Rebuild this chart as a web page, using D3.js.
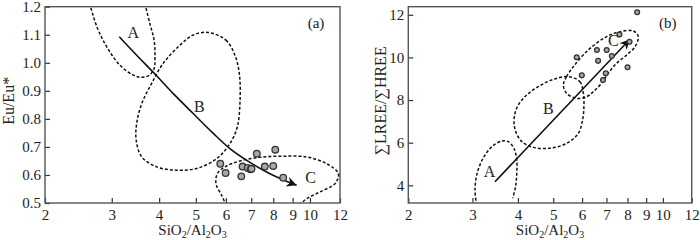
<!DOCTYPE html>
<html>
<head>
<meta charset="utf-8">
<script src="https://cdn.jsdelivr.net/npm/d3@7"></script>
<style>
  body { margin: 0; background: #fff; }
  svg { font-family: "Liberation Serif", "DejaVu Serif", serif; }
</style>
</head>
<body>
<div class="chart"></div>
<script>
// tick values
var xTicks = [2, 3, 4, 5, 6, 7, 8, 9, 10, 12];
var euTicks = [0.5, 0.6, 0.7, 0.8, 0.9, 1.0, 1.1, 1.2];
var lreeTicks = [4, 6, 8, 10, 12];

// samples
var sampleSiAl = [5.8, 5.99, 6.59, 6.64, 6.85, 6.97, 7.01, 7.24, 7.6, 8.0, 8.1, 8.5];
var euRatio    = [0.64, 0.607, 0.595, 0.63, 0.625, 0.62, 0.622, 0.676, 0.63, 0.632, 0.69, 0.59];
var lreeRatio  = [10.01, 9.16, 10.35, 9.84, 8.94, 9.26, 10.35, 10.07, 11.07, 9.54, 10.73, 12.12];

// fields, panel (a)  [SiO2/Al2O3, Eu/Eu*]
var fieldA_a = [[2.6,1.23],[2.74,1.129],[2.91,1.057],[3.15,0.992],[3.42,0.956],[3.6,0.948],[3.77,0.956],[3.88,0.98],[3.9,1.021],[3.88,1.081],[3.78,1.14],[3.64,1.23]];
var fieldB_a = [[5.39,1.108],[6.0,1.081],[6.34,1.027],[6.51,0.962],[6.54,0.867],[6.43,0.771],[6.15,0.712],[5.67,0.658],[5.02,0.623],[4.45,0.617],[3.94,0.629],[3.6,0.664],[3.48,0.724],[3.49,0.783],[3.6,0.855],[3.82,0.926],[4.1,0.998],[4.54,1.063],[4.92,1.099]];
var fieldC_a = [[6.02,0.49],[5.85,0.527],[5.65,0.569],[5.7,0.605],[5.97,0.629],[6.54,0.65],[7.38,0.663],[8.5,0.667],[9.8,0.664],[11.07,0.64],[11.88,0.605],[11.64,0.569],[10.6,0.539],[9.8,0.515],[9.3,0.49]];
var trend_a = [[3.14,1.093],[3.49,1.027],[3.9,0.96],[4.36,0.89],[4.92,0.819],[5.56,0.748],[6.15,0.694],[6.81,0.652],[7.53,0.617],[8.34,0.587],[9.22,0.563]];
var labels_a = [["A",3.42,1.108],["B",5.11,0.845],["C",10.04,0.593]];

// fields, panel (b)  [SiO2/Al2O3, LREE/HREE]
var fieldA_b = [[3.08,3.05],[3.05,3.78],[3.09,4.56],[3.21,5.27],[3.39,5.81],[3.61,6.08],[3.76,6.05],[3.9,5.74],[3.97,5.19],[3.97,4.56],[3.94,3.93],[3.87,3.39]];
var fieldB_b = [[5.5,9.1],[5.92,8.86],[6.05,8.32],[6.07,7.69],[6.02,7.07],[5.86,6.44],[5.44,5.97],[4.9,5.74],[4.41,5.78],[4.1,6.05],[3.93,6.6],[3.91,7.22],[4.01,7.77],[4.23,8.24],[4.55,8.63],[4.95,8.94]];
var fieldC_b = [[5.33,8.71],[5.44,9.1],[5.68,9.57],[6.24,10.35],[7.01,10.98],[7.63,11.21],[8.3,11.24],[8.56,10.98],[8.39,10.51],[7.96,10.12],[7.47,9.73],[7.08,9.26],[6.79,8.79],[6.44,8.39],[6.18,8.16],[5.8,8.08],[5.44,8.32]];
var trend_b = [[3.46,4.17],[8.12,10.85]];
var labels_b = [["A",3.34,4.64],["B",4.85,7.62],["C",7.31,10.82]];

var svg = d3.select(".chart").append("svg")
  .attr("width", 700)
  .attr("height", 240);

var defs = svg.append("defs");
defs.append("marker")
  .attr("id", "head")
  .attr("viewBox", "0 0 10 10")
  .attr("refX", 10).attr("refY", 5)
  .attr("markerUnits", "userSpaceOnUse")
  .attr("markerWidth", 15).attr("markerHeight", 10)
  .attr("orient", "auto")
  .append("path")
  .attr("d", "M0,0 L10,5 L0,10 L3,5 z")
  .style("fill", "#111");

function drawPanel(p) {
  var x = d3.scaleLog().domain([2, 12]).range([p.left, p.right]);
  var y = d3.scaleLinear().domain(p.yDomain).range([p.bottom, p.top]);

  defs.append("clipPath").attr("id", "clip" + p.id)
    .append("rect")
    .attr("x", p.left).attr("y", p.top)
    .attr("width", p.right - p.left).attr("height", p.bottom - p.top);

  var g = svg.append("g");

  // axes, ticks pointing inward
  var xAxis = g.append("g")
    .attr("transform", "translate(0," + p.bottom + ")")
    .call(d3.axisBottom(x).tickValues(xTicks).tickFormat(d3.format("d"))
      .tickSizeInner(-5).tickSizeOuter(0).tickPadding(6));
  var yAxis = g.append("g")
    .attr("transform", "translate(" + p.left + ",0)")
    .call(d3.axisLeft(y).tickValues(p.yTicks).tickFormat(p.yFormat)
      .tickSizeInner(-5).tickSizeOuter(0).tickPadding(4));
  [xAxis, yAxis].forEach(function (a) {
    a.select(".domain").remove();
    a.selectAll("line").style("stroke", "#333").style("stroke-width", 1.2);
    a.selectAll("text").style("font-family", "Liberation Serif").style("font-size", "15px").style("fill", "#222");
  });

  g.append("rect")
    .attr("x", p.left).attr("y", p.top)
    .attr("width", p.right - p.left).attr("height", p.bottom - p.top)
    .style("fill", "none").style("stroke", "#555").style("stroke-width", 1.4);

  var plot = g.append("g").attr("clip-path", "url(#clip" + p.id + ")");

  var lineOpen = d3.line()
    .x(function (d) { return x(d[0]); })
    .y(function (d) { return y(d[1]); })
    .curve(d3.curveCatmullRom);
  var lineClosed = d3.line()
    .x(function (d) { return x(d[0]); })
    .y(function (d) { return y(d[1]); })
    .curve(d3.curveCatmullRomClosed);

  plot.selectAll("path.field")
    .data(p.fields)
    .enter()
    .append("path")
    .attr("class", "field")
    .attr("d", function (d) { return d.closed ? lineClosed(d.pts) : lineOpen(d.pts); })
    .style("fill", "none")
    .style("stroke", "#111")
    .style("stroke-width", 1.5)
    .style("stroke-dasharray", "3,2");

  plot.append("path")
    .attr("d", lineOpen(p.trend))
    .style("fill", "none")
    .style("stroke", "#111")
    .style("stroke-width", 1.6)
    .attr("marker-end", "url(#head)");

  plot.selectAll("circle")
    .data(p.points)
    .enter()
    .append("circle")
    .attr("cx", function (d) { return x(d[0]); })
    .attr("cy", function (d) { return y(d[1]); })
    .attr("r", p.r)
    .style("fill", "#a8a8a8")
    .style("stroke", "#333")
    .style("stroke-width", 1.3);

  g.selectAll("text.zone")
    .data(p.labels)
    .enter()
    .append("text")
    .attr("class", "zone")
    .attr("x", function (d) { return x(d[1]); })
    .attr("y", function (d) { return y(d[2]); })
    .attr("dy", "0.35em")
    .attr("text-anchor", "middle")
    .style("font-size", "16px")
    .style("fill", "#222")
    .text(function (d) { return d[0]; });

  g.append("text")
    .attr("x", p.right - 24).attr("y", p.top + 16)
    .attr("dy", "0.35em")
    .attr("text-anchor", "middle")
    .style("font-size", "15px")
    .style("fill", "#222")
    .text(p.tag);

  // x title with subscripts
  var xt = g.append("text")
    .attr("x", (p.left + p.right) / 2).attr("y", 235)
    .attr("text-anchor", "middle")
    .style("font-size", "15px")
    .style("fill", "#222");
  [["SiO", 0], ["2", 1], ["/Al", 0], ["2", 1], ["O", 0], ["3", 1]].forEach(function (s) {
    xt.append("tspan")
      .attr("baseline-shift", s[1] ? "-25%" : null)
      .style("font-size", s[1] ? "10px" : null)
      .text(s[0]);
  });

  g.append("text")
    .attr("transform", "translate(" + p.yTitleX + "," + ((p.top + p.bottom) / 2 - 4) + ") rotate(-90)")
    .attr("dy", "0.35em")
    .attr("text-anchor", "middle")
    .style("font-size", "16px")
    .style("fill", "#222")
    .text(p.yTitle);
}

drawPanel({
  id: "a", tag: "(a)",
  left: 45, right: 340, top: 6.7, bottom: 203,
  yDomain: [0.5, 1.2], yTicks: euTicks, yFormat: d3.format(".1f"),
  yTitle: "Eu/Eu*", yTitleX: 8,
  fields: [{ pts: fieldA_a, closed: false }, { pts: fieldB_a, closed: true }, { pts: fieldC_a, closed: false }],
  trend: trend_a,
  points: sampleSiAl.map(function (v, i) { return [v, euRatio[i]]; }),
  r: 3.3,
  labels: labels_a
});

drawPanel({
  id: "b", tag: "(b)",
  left: 408.3, right: 691.7, top: 6.7, bottom: 203,
  yDomain: [3.17, 12.38], yTicks: lreeTicks, yFormat: d3.format("d"),
  yTitle: "\u2211LREE/\u2211HREE", yTitleX: 380,
  fields: [{ pts: fieldA_b, closed: false }, { pts: fieldB_b, closed: true }, { pts: fieldC_b, closed: true }],
  trend: trend_b,
  points: sampleSiAl.map(function (v, i) { return [v, lreeRatio[i]]; }),
  r: 2.4,
  labels: labels_b
});
</script>
</body>
</html>
